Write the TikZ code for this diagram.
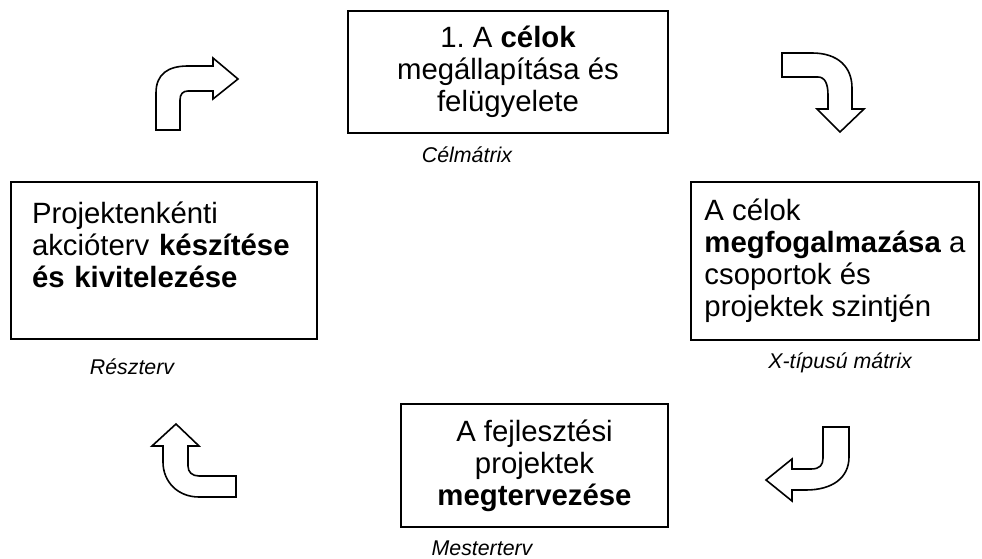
\documentclass[tikz,border=0pt]{standalone}
\usepackage{fontspec}
\setmainfont{Liberation Sans}
\frenchspacing
\usetikzlibrary{positioning}

\tikzset{
	box/.style={draw, line width=1.5pt, inner sep=0pt, font=\fontsize{22}{24}\selectfont},
	note/.style={font=\fontsize{16}{18}\selectfont\itshape},
	turn/.style={draw, line width=1.2pt, fill=white, line join=miter}
}

\begin{document}
\begin{tikzpicture}[x=0.75pt,y=-0.75pt]
		\useasboundingbox (0,0) rectangle (982,559);
		% the four stages
		\node[box, minimum width=240pt, minimum height=91.5pt, align=center] (celok) at (508,72) {1. A \textbf{célok}\\megállapítása és\\felügyelete};
		\node[box, minimum width=216pt, minimum height=118.5pt, align=left] (szint) at (835,261) {A célok\\\textbf{megfogalmazása} a\\csoportok és\\projektek szintjén};
		\node[box, minimum width=200pt, minimum height=92pt, align=center] (terv) at (534.5,465.5) {A fejlesztési\\projektek\\\textbf{megtervezése}};
		\node[box, minimum width=229.5pt, minimum height=117.75pt, inner xsep=15.75pt, text width=198pt, align=left] (akcio) at (164,260.5) {Projektenkénti\\akcióterv \textbf{készítése}\\\textbf{és kivitelezése}\\\mbox{}};
		% tools under the boxes
		\node[note] (celmatrix) at (467,155) {Célmátrix};
		\node[note] (xmatrix) at (840,363) {X-típusú mátrix};
		\node[note] (mester) at (482,548) {Mesterterv};
		\node[note] (reszterv) at (132,367) {Részterv};
		% bent arrows
		\draw[turn] (156,130) -- (156,93) .. controls (156,74) and (168,66) .. (188,66) -- (213,66) -- (213,58) -- (238,79) -- (213,99) -- (213,91) -- (188,91) .. controls (183,91) and (180,94) .. (180,100) -- (180,130) -- cycle;
		\draw[turn] (782,53) -- (782,77) -- (818,77) .. controls (825,77) and (828,84) .. (828,95) -- (828,109) -- (817,109) -- (840,132) -- (864,109) -- (852,109) -- (852,88) .. controls (852,67) and (838,53) .. (812,53) -- cycle;
		\draw[turn] (823,427) -- (849,427) -- (849,457) .. controls (849,478) and (832,490) .. (806,490) -- (792,490) -- (792,501) -- (766,480) -- (792,459) -- (792,469) -- (811,469) .. controls (820,469) and (823,465) .. (823,458) -- cycle;
		\draw[turn] (176,424) -- (199,446) -- (188,446) -- (188,466) .. controls (188,472) and (192,476) .. (199,476) -- (236,476) -- (236,497) -- (199,497) .. controls (178,497) and (163,482) .. (163,462) -- (163,446) -- (152,446) -- cycle;
	\end{tikzpicture}
\end{document}
